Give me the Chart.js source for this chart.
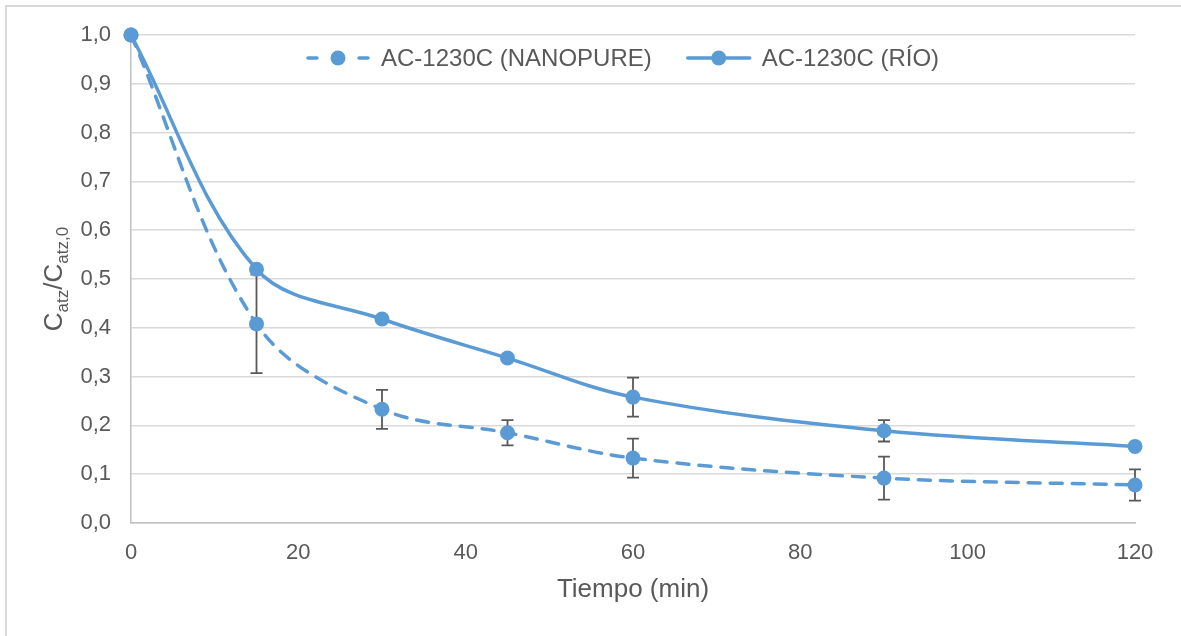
<!DOCTYPE html>
<html lang="es">
<head>
<meta charset="utf-8">
<title>AC-1230C — Catz/Catz,0 vs tiempo</title>
<script src="https://cdn.jsdelivr.net/npm/chart.js@4.4.1/dist/chart.umd.min.js"></script>
<style>
    html, body { margin: 0; padding: 0; background: #ffffff; }
    #wrap { width: 1181px; height: 636px; }
</style>
</head>
<body>
<div id="wrap"><canvas id="chart" width="1181" height="636"></canvas></div>
<script>
// Data
const times = [0, 15, 30, 45, 60, 90, 120];
const nanopure = [1.0, 0.408, 0.233, 0.185, 0.133, 0.092, 0.078];
const nanopureErr = [0, 0.101, 0.040, 0.026, 0.040, 0.044, 0.032];
const rio = [1.0, 0.520, 0.418, 0.338, 0.258, 0.189, 0.157];
const rioErr = [0, 0, 0, 0, 0.040, 0.022, 0];
const xTicks = [0, 20, 40, 60, 80, 100, 120];
const yTicks = [0, 0.1, 0.2, 0.3, 0.4, 0.5, 0.6, 0.7, 0.8, 0.9, 1.0];

const BLUE = '#5B9BD5';
const TEXT = '#595959';
const FONT = '"Liberation Sans", Arial, sans-serif';

const toPoints = vals => times.map((t, i) => ({ x: t, y: vals[i] }));

/**
 * Outer chart-area frame (only the top and left edges show in the picture)
 */
const frame = {
    id: 'frame',
    beforeDraw(chart) {
        const { ctx } = chart;
        ctx.save();
        ctx.strokeStyle = '#d9d9d9';
        ctx.lineWidth = 2;
        ctx.strokeRect(6, 6, chart.width + 40, chart.height + 40);
        ctx.restore();
    }
};

/**
 * Vertical error bars, drawn under the markers
 */
const errorBars = {
    id: 'errorBars',
    beforeDatasetsDraw(chart) {
        const { ctx, scales: { x, y } } = chart;
        ctx.save();
        ctx.strokeStyle = TEXT;
        ctx.lineWidth = 1.8;
        [[nanopure, nanopureErr], [rio, rioErr]].forEach(([vals, errs]) => {
            vals.forEach((v, i) => {
                const e = errs[i];
                if (!e) return;
                const px = x.getPixelForValue(times[i]);
                const top = y.getPixelForValue(v + e);
                const bot = y.getPixelForValue(v - e);
                ctx.beginPath();
                ctx.moveTo(px, top); ctx.lineTo(px, bot);
                ctx.moveTo(px - 6, top); ctx.lineTo(px + 6, top);
                ctx.moveTo(px - 6, bot); ctx.lineTo(px + 6, bot);
                ctx.stroke();
            });
        });
        ctx.restore();
    }
};

/**
 * Axis titles (y title needs subscripts) and the top legend
 */
const labels = {
    id: 'labels',
    afterDraw(chart) {
        const { ctx, chartArea: a } = chart;
        ctx.save();
        ctx.fillStyle = TEXT;

        // x title
        ctx.font = `26px ${FONT}`;
        ctx.textAlign = 'center';
        ctx.textBaseline = 'middle';
        ctx.fillText('Tiempo (min)', (a.left + a.right) / 2, 590);

        // y title: C_atz / C_atz,0
        const parts = [
            { t: 'C', size: 26, dy: 0 },
            { t: 'atz', size: 17, dy: 6 },
            { t: '/', size: 26, dy: 0 },
            { t: 'C', size: 26, dy: 0 },
            { t: 'atz,0', size: 17, dy: 6 }
        ];
        let total = 0;
        parts.forEach(p => { ctx.font = `${p.size}px ${FONT}`; p.w = ctx.measureText(p.t).width; total += p.w; });
        ctx.translate(62, (a.top + a.bottom) / 2);
        ctx.rotate(-Math.PI / 2);
        ctx.textAlign = 'left';
        ctx.textBaseline = 'alphabetic';
        let px = -total / 2;
        parts.forEach(p => {
            ctx.font = `${p.size}px ${FONT}`;
            ctx.fillText(p.t, px, p.dy);
            px += p.w;
        });
        ctx.setTransform(1, 0, 0, 1, 0, 0);

        // legend
        ctx.font = `24px ${FONT}`;
        ctx.textBaseline = 'middle';
        const ly = 58;
        const sample = 62;
        let lx = 307;
        chart.data.datasets.forEach(ds => {
            ctx.strokeStyle = ds.borderColor;
            ctx.lineWidth = ds.borderWidth;
            ctx.lineCap = 'round';
            ctx.beginPath();
            if (ds.borderDash && ds.borderDash.length) {
                ctx.moveTo(lx + 1, ly); ctx.lineTo(lx + 10, ly);
                ctx.moveTo(lx + sample - 10, ly); ctx.lineTo(lx + sample - 1, ly);
            } else {
                ctx.moveTo(lx, ly); ctx.lineTo(lx + sample, ly);
            }
            ctx.stroke();
            ctx.fillStyle = ds.pointBackgroundColor;
            ctx.beginPath();
            ctx.arc(lx + sample / 2, ly, ds.pointRadius, 0, Math.PI * 2);
            ctx.fill();
            ctx.fillStyle = TEXT;
            ctx.textAlign = 'left';
            ctx.fillText(ds.label, lx + sample + 12, ly + 1);
            lx += sample + 12 + ctx.measureText(ds.label).width + 36;
        });
        ctx.restore();
    }
};

const ctx = document.getElementById('chart').getContext('2d');
new Chart(ctx, {
    type: 'line',
    data: {
        datasets: [
            {
                label: 'AC-1230C (NANOPURE)',
                data: toPoints(nanopure),
                borderColor: BLUE,
                borderWidth: 3.5,
                borderDash: [12, 10],
                borderCapStyle: 'round',
                pointRadius: 7.5,
                pointBackgroundColor: BLUE,
                pointBorderColor: BLUE,
                pointBorderWidth: 0,
                tension: 0.35,
                clip: false,
                order: 2
            },
            {
                label: 'AC-1230C (RÍO)',
                data: toPoints(rio),
                borderColor: BLUE,
                borderWidth: 3.5,
                borderCapStyle: 'round',
                pointRadius: 7.5,
                pointBackgroundColor: BLUE,
                pointBorderColor: BLUE,
                pointBorderWidth: 0,
                tension: 0.35,
                clip: false,
                order: 1
            }
        ]
    },
    options: {
        responsive: false,
        animation: false,
        layout: { padding: { top: 35, right: 46, left: 0, bottom: 0 } },
        plugins: {
            legend: { display: false },
            tooltip: { enabled: false }
        },
        scales: {
            x: {
                type: 'linear',
                min: xTicks[0],
                max: xTicks[xTicks.length - 1],
                afterBuildTicks: s => { s.ticks = xTicks.map(v => ({ value: v })); },
                afterFit: s => { s.height = 113; },
                grid: { display: false, drawTicks: false },
                border: { display: true, color: '#bfbfbf', width: 1.5 },
                ticks: { color: TEXT, font: { family: FONT, size: 22 }, padding: 17, maxRotation: 0 }
            },
            y: {
                min: yTicks[0],
                max: yTicks[yTicks.length - 1],
                afterBuildTicks: s => { s.ticks = yTicks.map(v => ({ value: v })); },
                afterFit: s => { s.width = 131; },
                grid: { color: '#d9d9d9', lineWidth: 1.5, drawTicks: false },
                border: { display: true, color: '#bfbfbf', width: 1.5 },
                ticks: {
                    color: TEXT,
                    font: { family: FONT, size: 22 },
                    padding: 20,
                    callback: v => v.toFixed(1).replace('.', ',')
                }
            }
        }
    },
    plugins: [frame, errorBars, labels]
});
</script>
</body>
</html>
